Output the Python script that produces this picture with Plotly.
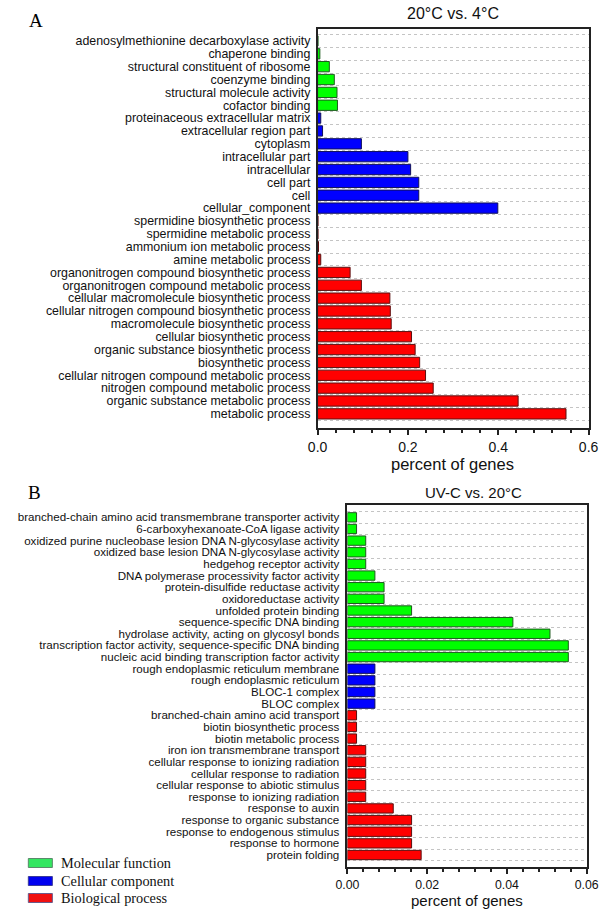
import plotly.graph_objects as go

W, H = 615, 914

# panel A: 20°C vs. 4°C
a_mf_terms = ['adenosylmethionine decarboxylase activity', 'chaperone binding',
	'structural constituent of ribosome', 'coenzyme binding',
	'structural molecule activity', 'cofactor binding']
a_mf_vals = [0.001, 0.005, 0.026, 0.037, 0.043, 0.044]
a_cc_terms = ['proteinaceous extracellular matrix', 'extracellular region part', 'cytoplasm',
	'intracellular part', 'intracellular', 'cell part', 'cell', 'cellular_component']
a_cc_vals = [0.007, 0.011, 0.097, 0.200, 0.206, 0.224, 0.224, 0.399]
a_bp_terms = ['spermidine biosynthetic process', 'spermidine metabolic process',
	'ammonium ion metabolic process', 'amine metabolic process',
	'organonitrogen compound biosynthetic process', 'organonitrogen compound metabolic process',
	'cellular macromolecule biosynthetic process', 'cellular nitrogen compound biosynthetic process',
	'macromolecule biosynthetic process', 'cellular biosynthetic process',
	'organic substance biosynthetic process', 'biosynthetic process',
	'cellular nitrogen compound metabolic process', 'nitrogen compound metabolic process',
	'organic substance metabolic process', 'metabolic process']
a_bp_vals = [0.001, 0.001, 0.002, 0.007, 0.072, 0.097, 0.160, 0.161, 0.163, 0.208,
	0.216, 0.226, 0.239, 0.256, 0.444, 0.550]

# panel B: UV-C vs. 20°C
b_mf_terms = ['branched-chain amino acid transmembrane transporter activity',
	'6-carboxyhexanoate-CoA ligase activity',
	'oxidized purine nucleobase lesion DNA N-glycosylase activity',
	'oxidized base lesion DNA N-glycosylase activity', 'hedgehog receptor activity',
	'DNA polymerase processivity factor activity', 'protein-disulfide reductase activity',
	'oxidoreductase activity', 'unfolded protein binding', 'sequence-specific DNA binding',
	'hydrolase activity, acting on glycosyl bonds',
	'transcription factor activity, sequence-specific DNA binding',
	'nucleic acid binding transcription factor activity']
b_mf_vals = [0.0023, 0.0023, 0.0046, 0.0046, 0.0046, 0.0069, 0.0092, 0.0092, 0.0161,
	0.0415, 0.0508, 0.0554, 0.0554]
b_cc_terms = ['rough endoplasmic reticulum membrane', 'rough endoplasmic reticulum',
	'BLOC-1 complex', 'BLOC complex']
b_cc_vals = [0.0069, 0.0069, 0.0069, 0.0069]
b_bp_terms = ['branched-chain amino acid transport', 'biotin biosynthetic process',
	'biotin metabolic process', 'iron ion transmembrane transport',
	'cellular response to ionizing radiation', 'cellular response to radiation',
	'cellular response to abiotic stimulus', 'response to ionizing radiation',
	'response to auxin', 'response to organic substance', 'response to endogenous stimulus',
	'response to hormone', 'protein folding']
b_bp_vals = [0.0023, 0.0023, 0.0023, 0.0046, 0.0046, 0.0046, 0.0046, 0.0046, 0.0115,
	0.0161, 0.0161, 0.0161, 0.0185]

groups = ['Molecular function', 'Cellular component', 'Biological process']
fills = ['#00ff00', '#0000ff', '#ff0000']
edges = ['#1e5a1e', '#10105a', '#5a1010']
key_fills = ['#33e660', '#0000f0', '#f01010']
key_edges = ['#5a8a6a', '#3a3a9a', '#6a5a8a']

SANS = 'Liberation Sans, Arial, sans-serif'
SERIF = 'Liberation Serif, Times New Roman, serif'

def px_x(p): return p / W
def px_y(p): return 1 - p / H

fig = go.Figure()

panels = [
	('x', 'y', [a_mf_terms, a_cc_terms, a_bp_terms], [a_mf_vals, a_cc_vals, a_bp_vals]),
	('x2', 'y2', [b_mf_terms, b_cc_terms, b_bp_terms], [b_mf_vals, b_cc_vals, b_bp_vals]),
]
order = {}
for xa, ya, terms, vals in panels:
	order[ya] = sum(terms, [])
	for i in range(3):
		fig.add_trace(go.Bar(
			x = vals[i], y = terms[i], orientation = 'h', name = groups[i],
			xaxis = xa, yaxis = ya, width = 0.8, showlegend = False,
			marker = dict(color = fills[i], line = dict(color = edges[i], width = 1)),
		))

frame = dict(showline = True, linecolor = '#222', linewidth = 1.5, mirror = True, zeroline = False)

fig.update_layout(
	width = W, height = H, margin = dict(l = 0, r = 0, t = 0, b = 0),
	plot_bgcolor = 'white', paper_bgcolor = 'white', barmode = 'overlay',
	font = dict(family = SANS, color = '#111'),
	xaxis = dict(domain = [px_x(318), px_x(600)], anchor = 'y', range = [0, 0.6],
		tickvals = [0, 0.2, 0.4, 0.6], ticktext = ['0.0', '0.2', '0.4', '0.6'],
		ticks = 'outside', ticklen = 5, tickwidth = 1.5, tickcolor = '#222',
		minor = dict(ticks = 'outside', ticklen = 3, dtick = 0.04, tickcolor = '#222', showgrid = False),
		showgrid = False, tickfont = dict(size = 14), **frame),
	yaxis = dict(domain = [px_y(428), px_y(29)], anchor = 'x', type = 'category',
		categoryorder = 'array', categoryarray = order['y'], range = [30.1, -0.93],
		tickmode = 'array', tickvals = order['y'],
		tickson = 'boundaries', ticks = '', showgrid = True, gridcolor = '#c4c4c4',
		griddash = 'dot', gridwidth = 1, tickfont = dict(size = 12.4), ticklabelstandoff = 3, **frame),
	xaxis2 = dict(domain = [px_x(349), px_x(598)], anchor = 'y2', range = [0, 0.06],
		tickvals = [0, 0.02, 0.04, 0.06], ticktext = ['0.00', '0.02', '0.04', '0.06'],
		ticks = 'outside', ticklen = 5, tickwidth = 1.5, tickcolor = '#222',
		minor = dict(ticks = 'outside', ticklen = 3, dtick = 0.004, tickcolor = '#222', showgrid = False),
		showgrid = False, tickfont = dict(size = 12.3), **frame),
	yaxis2 = dict(domain = [px_y(867), px_y(505)], anchor = 'x2', type = 'category',
		categoryorder = 'array', categoryarray = order['y2'], range = [30.03, -1.06],
		tickmode = 'array', tickvals = order['y2'],
		tickson = 'boundaries', ticks = '', showgrid = True, gridcolor = '#c4c4c4',
		griddash = 'dot', gridwidth = 1, tickfont = dict(size = 11.6), ticklabelstandoff = 4, **frame),
)

def note(text, x, y, size, family = SANS, xanchor = 'center', color = '#111'):
	fig.add_annotation(text = text, x = px_x(x), y = px_y(y), xref = 'paper', yref = 'paper',
		xanchor = xanchor, yanchor = 'middle', showarrow = False,
		font = dict(size = size, family = family, color = color))

# panel titles, axis titles and letters
note('20°C vs. 4°C', 459, 13, 16)
note('UV-C vs. 20°C', 480, 492, 15)
note('percent of genes', 458, 464, 16.5)
note('percent of genes', 473, 900, 15)
note('A', 16, 21, 19, SERIF, 'left', '#000')
note('B', 15, 493, 19, SERIF, 'left', '#000')

# legend keys
key_y = [863, 881, 898]
for i in range(3):
	fig.add_shape(type = 'rect', xref = 'paper', yref = 'paper',
		x0 = px_x(17), x1 = px_x(42), y0 = px_y(key_y[i] + 4.5), y1 = px_y(key_y[i] - 4.5),
		fillcolor = key_fills[i], line = dict(color = key_edges[i], width = 1))
	note(groups[i], 49, key_y[i], 14.3, SERIF, 'left')

# page body has a default 8px margin; drop it so the figure fills the window
fig.write_html('out.html', config = {'displayModeBar': False},
	post_script = "document.body.style.margin = '0';")
